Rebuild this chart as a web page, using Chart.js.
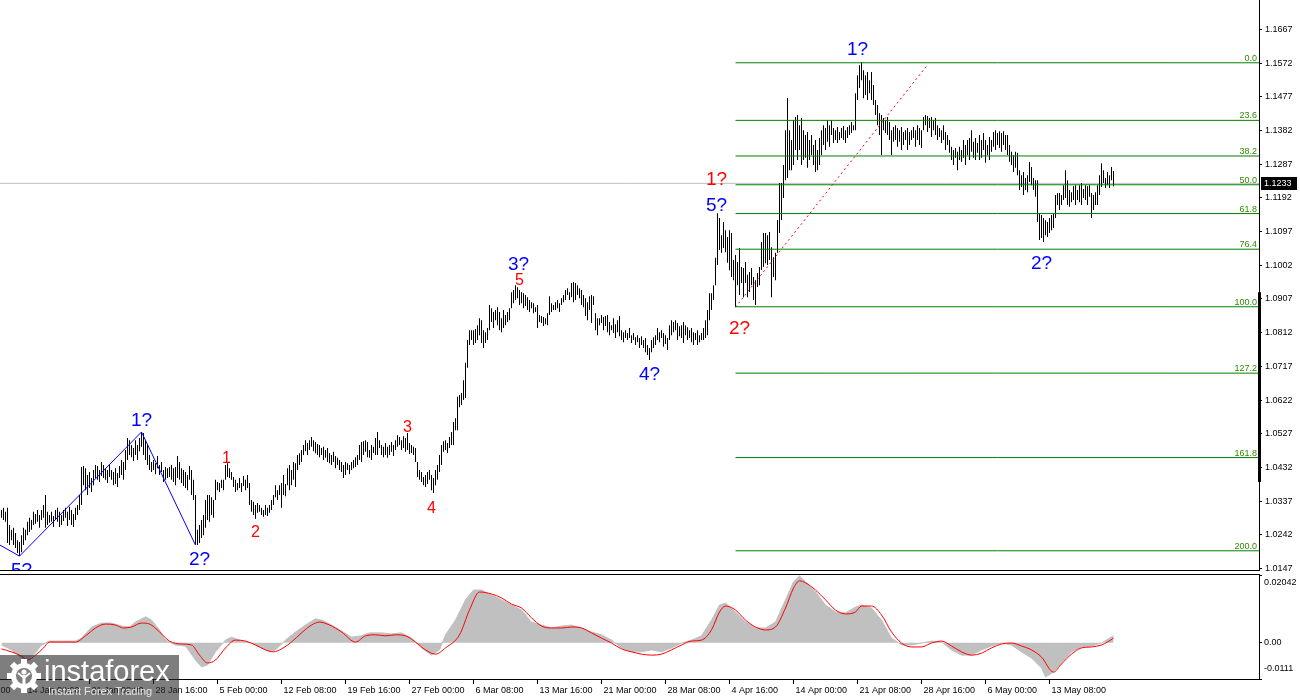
<!DOCTYPE html>
<html><head><meta charset="utf-8">
<script src="https://cdn.jsdelivr.net/npm/chart.js@4.4.1/dist/chart.umd.min.js"></script>
<style>
html,body{margin:0;padding:0;background:#fff;overflow:hidden;}
#wrap{position:relative;width:1300px;height:700px;background:#fff;}
#c1{position:absolute;left:0;top:0;}
#c2{position:absolute;left:0;top:571px;}
</style></head><body>
<div id="wrap">
<canvas id="c1" width="1300" height="571" style="width:1300px;height:571px"></canvas>
<canvas id="c2" width="1300" height="129" style="width:1300px;height:129px"></canvas>
</div>
<script>
// ---------------- DATA ----------------
const barHigh = [
1.0312,1.0318,1.0307,1.0318,1.0270,1.0256,1.0262,1.0247,1.0227,1.0222,1.0241,
1.0262,1.0256,1.0279,1.0290,1.0284,1.0307,1.0301,1.0312,1.0298,1.0312,1.0326,1.0354,
1.0307,1.0298,1.0307,1.0295,1.0312,1.0318,1.0307,1.0298,1.0312,1.0318,1.0307,1.0321,1.0312,1.0301,1.0318,1.0326,1.0354,1.0433,
1.0436,1.0430,1.0411,1.0419,1.0402,1.0425,1.0439,1.0436,1.0425,1.0447,1.0439,1.0430,1.0425,1.0439,
1.0425,1.0419,1.0430,1.0416,1.0436,1.0453,1.0447,1.0481,1.0515,1.0509,1.0495,1.0487,1.0509,1.0495,1.0515,1.0532,1.0529,
1.0509,1.0495,1.0467,1.0447,1.0453,1.0444,1.0464,1.0439,1.0447,1.0425,1.0433,1.0430,1.0433,1.0439,1.0430,1.0433,1.0464,1.0447,1.0430,1.0425,1.0419,1.0411,1.0436,1.0425,1.0397,1.0354,
1.0256,1.0270,1.0284,1.0298,1.0340,1.0354,1.0354,1.0348,1.0340,1.0397,1.0391,1.0388,1.0397,1.0397,1.0439,1.0444,
1.0430,1.0419,1.0405,1.0397,1.0388,1.0402,1.0388,1.0408,1.0397,1.0411,1.0388,1.0340,1.0335,1.0326,1.0332,
1.0326,1.0318,1.0312,1.0326,1.0318,1.0326,1.0340,1.0354,1.0382,1.0368,1.0382,1.0388,1.0411,1.0385,1.0430,1.0439,1.0425,1.0447,1.0444,1.0467,1.0472,
1.0481,1.0495,1.0509,1.0501,1.0509,1.0518,1.0509,1.0504,1.0498,1.0495,1.0487,1.0490,1.0481,1.0487,1.0472,1.0467,1.0476,1.0464,1.0459,1.0453,1.0447,1.0439,1.0447,
1.0444,1.0439,1.0447,1.0453,1.0461,1.0467,1.0495,1.0504,1.0506,1.0509,1.0504,1.0481,1.0495,1.0490,1.0515,1.0532,1.0509,1.0495,1.0490,1.0501,1.0490,1.0495,1.0504,1.0495,
1.0509,1.0523,1.0518,1.0509,1.0520,1.0515,1.0529,1.0501,1.0495,1.0490,1.0487,1.0447,1.0425,1.0419,1.0405,1.0411,1.0419,1.0425,1.0411,1.0402,
1.0425,1.0439,1.0467,1.0495,1.0506,1.0509,1.0501,1.0518,1.0532,1.0560,1.0571,1.0631,1.0636,1.0642,1.0678,1.0727,1.0791,
1.0819,1.0819,1.0819,1.0822,1.0833,1.0853,1.0847,1.0819,1.0813,1.0825,1.0890,1.0881,1.0870,1.0876,1.0884,1.0870,1.0853,1.0876,1.0862,1.0870,1.0881,1.0926,1.0932,
1.0946,1.0940,1.0932,1.0926,1.0923,1.0918,1.0912,1.0904,1.0898,1.0895,1.0884,1.0890,1.0862,1.0859,1.0856,1.0853,1.0867,1.0915,1.0895,1.0890,1.0898,1.0904,1.0895,1.0909,
1.0918,1.0932,1.0937,1.0926,1.0952,1.0955,1.0952,1.0946,1.0937,1.0932,1.0918,1.0909,1.0898,1.0915,1.0918,1.0915,
1.0867,1.0853,1.0853,1.0862,1.0856,1.0859,1.0862,1.0842,1.0833,1.0853,1.0836,1.0847,1.0859,1.0819,1.0813,1.0819,1.0811,1.0825,1.0805,1.0811,1.0799,1.0805,1.0797,1.0802,1.0791,1.0797,1.0777,1.0769,1.0791,
1.0799,1.0805,1.0825,1.0813,1.0819,1.0811,1.0805,1.0797,1.0833,1.0847,1.0842,1.0847,1.0839,1.0830,1.0833,1.0842,1.0833,1.0827,1.0819,1.0825,1.0813,1.0811,1.0819,1.0805,1.0811,1.0825,1.0847,1.0876,1.0923,1.0923,
1.0946,1.1023,1.1149,1.1135,1.1087,1.1124,1.1101,1.1082,1.1101,1.1093,1.1017,
1.1031,1.1011,1.1051,1.0997,1.0994,1.1011,1.0975,1.0983,1.0994,1.0969,1.0960,1.0980,1.0997,1.1068,1.1093,1.1093,1.1087,1.1096,1.1053,1.1025,1.1037,1.1130,1.1234,1.1234,1.1285,1.1383,1.1474,
1.1383,1.1355,1.1411,1.1420,1.1426,1.1397,1.1417,1.1383,1.1369,1.1378,1.1355,1.1369,1.1341,1.1355,1.1327,1.1361,1.1383,1.1397,1.1389,1.1411,1.1397,1.1411,1.1389,1.1383,1.1392,1.1378,1.1389,1.1395,1.1383,1.1392,1.1397,1.1406,1.1397,
1.1487,1.1538,1.1566,1.1575,1.1552,1.1538,1.1547,1.1524,1.1547,1.1510,1.1468,1.1454,1.1431,1.1426,1.1417,1.1411,1.1420,1.1406,1.1383,1.1392,1.1397,1.1389,1.1383,1.1392,1.1378,1.1383,1.1389,1.1378,1.1383,1.1392,1.1383,1.1397,1.1389,1.1383,
1.1420,1.1426,1.1423,1.1417,1.1420,1.1411,1.1417,1.1397,1.1389,1.1383,1.1397,1.1378,1.1369,1.1355,1.1336,1.1327,1.1333,1.1322,1.1336,1.1327,1.1355,1.1341,1.1355,1.1361,1.1383,1.1350,1.1361,1.1347,1.1369,1.1355,1.1375,1.1355,1.1341,1.1364,1.1355,1.1378,1.1383,1.1375,1.1380,1.1375,1.1380,1.1369,1.1369,
1.1341,1.1322,1.1313,1.1322,1.1319,1.1270,1.1256,1.1265,1.1248,1.1256,1.1293,1.1279,1.1248,1.1242,1.1242,1.1149,1.1144,1.1135,1.1129,1.1124,1.1135,1.1144,1.1149,1.1200,1.1206,1.1206,1.1200,1.1228,1.1270,1.1242,1.1214,1.1208,1.1225,1.1228,1.1214,1.1228,1.1234,1.1217,1.1228,1.1225,1.1228,1.1206,1.1200,1.1208,1.1228,1.1256,1.1290,1.1270,1.1248,1.1265,1.1256,1.1279,1.1268
];
const barLow = [
1.0290,1.0284,1.0279,1.0219,1.0213,1.0227,1.0213,1.0205,1.0191,1.0182,1.0193,
1.0213,1.0227,1.0241,1.0250,1.0256,1.0270,1.0273,1.0279,1.0262,1.0284,1.0290,1.0262,
1.0270,1.0276,1.0279,1.0264,1.0284,1.0279,1.0264,1.0270,1.0281,1.0290,1.0267,1.0284,1.0270,1.0264,1.0284,1.0298,1.0312,1.0326,
1.0382,1.0368,1.0354,1.0374,1.0363,1.0382,1.0402,1.0397,1.0391,1.0408,1.0402,1.0397,1.0388,1.0405,
1.0397,1.0382,1.0385,1.0377,1.0402,1.0411,1.0397,1.0425,1.0453,1.0467,1.0461,1.0450,1.0467,1.0453,1.0478,1.0490,1.0467,
1.0453,1.0439,1.0425,1.0419,1.0425,1.0413,1.0430,1.0411,1.0419,1.0391,1.0397,1.0402,1.0405,1.0397,1.0391,1.0382,1.0402,1.0397,1.0388,1.0380,1.0374,1.0368,1.0397,1.0354,1.0340,1.0213,
1.0213,1.0219,1.0233,1.0241,1.0262,1.0284,1.0279,1.0298,1.0290,1.0340,1.0368,1.0363,1.0374,1.0368,1.0397,1.0405,
1.0402,1.0397,1.0377,1.0363,1.0368,1.0374,1.0363,1.0380,1.0368,1.0374,1.0326,1.0307,1.0298,1.0287,1.0304,
1.0307,1.0298,1.0293,1.0298,1.0295,1.0304,1.0312,1.0326,1.0348,1.0340,1.0354,1.0318,1.0354,1.0351,1.0382,1.0368,1.0382,1.0397,1.0377,1.0425,1.0439,
1.0447,1.0467,1.0478,1.0467,1.0481,1.0490,1.0478,1.0472,1.0467,1.0461,1.0467,1.0453,1.0459,1.0447,1.0444,1.0439,1.0447,1.0430,1.0439,1.0425,1.0419,1.0402,1.0411,
1.0425,1.0413,1.0425,1.0430,1.0433,1.0439,1.0453,1.0447,1.0467,1.0476,1.0461,1.0459,1.0453,1.0473,1.0467,1.0467,1.0487,1.0467,1.0461,1.0467,1.0459,1.0467,1.0476,1.0464,
1.0481,1.0490,1.0495,1.0481,1.0487,1.0476,1.0481,1.0470,1.0473,1.0467,1.0447,1.0405,1.0397,1.0391,1.0382,1.0377,1.0385,1.0397,1.0368,1.0360,
1.0382,1.0397,1.0419,1.0439,1.0476,1.0481,1.0473,1.0487,1.0495,1.0495,1.0537,1.0537,1.0602,1.0608,1.0622,1.0628,1.0713,
1.0777,1.0791,1.0777,1.0783,1.0791,1.0805,1.0783,1.0769,1.0783,1.0791,1.0819,1.0842,1.0825,1.0847,1.0833,1.0819,1.0813,1.0825,1.0833,1.0842,1.0847,1.0881,1.0895,
1.0904,1.0909,1.0890,1.0895,1.0881,1.0887,1.0876,1.0870,1.0881,1.0867,1.0870,1.0825,1.0842,1.0839,1.0831,1.0836,1.0833,1.0862,1.0870,1.0876,1.0876,1.0881,1.0870,1.0890,
1.0898,1.0904,1.0918,1.0904,1.0912,1.0898,1.0904,1.0918,1.0909,1.0890,1.0884,1.0859,1.0847,1.0876,1.0839,1.0890,
1.0819,1.0805,1.0833,1.0839,1.0819,1.0831,1.0813,1.0805,1.0819,1.0811,1.0797,1.0813,1.0802,1.0791,1.0785,1.0797,1.0791,1.0797,1.0783,1.0791,1.0777,1.0785,1.0769,1.0777,1.0769,1.0757,1.0749,1.0735,1.0757,
1.0769,1.0777,1.0791,1.0785,1.0797,1.0772,1.0780,1.0763,1.0791,1.0805,1.0813,1.0819,1.0791,1.0802,1.0797,1.0783,1.0805,1.0791,1.0797,1.0785,1.0777,1.0791,1.0777,1.0785,1.0791,1.0791,1.0797,1.0805,1.0847,1.0876,
1.0904,1.0946,1.1003,1.1045,1.1037,1.1051,1.1039,1.1009,1.0988,1.0969,1.0960,
1.0884,1.0946,1.0918,1.0952,1.0912,1.0952,1.0912,1.0927,1.0946,1.0904,1.0890,1.0941,1.0946,1.0989,1.0997,1.1008,1.1003,1.1017,1.0912,1.0969,1.0960,1.1037,1.1093,1.1130,1.1192,1.1242,1.1248,
1.1270,1.1270,1.1285,1.1327,1.1299,1.1327,1.1285,1.1299,1.1305,1.1277,1.1299,1.1313,1.1285,1.1265,1.1270,1.1285,1.1313,1.1341,1.1327,1.1350,1.1336,1.1369,1.1347,1.1355,1.1347,1.1355,1.1361,1.1355,1.1347,1.1361,1.1369,1.1375,1.1383,
1.1383,1.1468,1.1502,1.1524,1.1473,1.1482,1.1468,1.1487,1.1468,1.1454,1.1426,1.1397,1.1369,1.1313,1.1383,1.1375,1.1369,1.1355,1.1313,1.1350,1.1355,1.1336,1.1350,1.1327,1.1341,1.1355,1.1327,1.1341,1.1355,1.1361,1.1336,1.1355,1.1341,1.1333,
1.1383,1.1397,1.1378,1.1389,1.1364,1.1383,1.1369,1.1355,1.1364,1.1347,1.1355,1.1327,1.1341,1.1319,1.1299,1.1285,1.1305,1.1270,1.1299,1.1294,1.1305,1.1285,1.1313,1.1299,1.1322,1.1305,1.1299,1.1319,1.1299,1.1305,1.1327,1.1291,1.1313,1.1299,1.1322,1.1336,1.1327,1.1341,1.1333,1.1322,1.1341,1.1327,1.1313,
1.1294,1.1285,1.1265,1.1277,1.1256,1.1214,1.1223,1.1200,1.1214,1.1208,1.1237,1.1228,1.1214,1.1195,1.1124,1.1073,1.1079,1.1068,1.1087,1.1082,1.1093,1.1101,1.1107,1.1135,1.1172,1.1158,1.1172,1.1186,1.1192,1.1172,1.1167,1.1180,1.1186,1.1172,1.1186,1.1180,1.1172,1.1192,1.1186,1.1172,1.1195,1.1135,1.1158,1.1172,1.1172,1.1200,1.1223,1.1234,1.1220,1.1228,1.1220,1.1242,1.1225
];
const currentPrice = 1.1233;
const currentPriceLabel = '1.1233';

const yTickVals = [1.0147,1.0242,1.0337,1.0432,1.0527,1.0622,1.0717,1.0812,1.0907,1.1002,1.1097,1.1192,1.1287,1.1382,1.1477,1.1572,1.1667];
const yTickLabels = ['1.0147','1.0242','1.0337','1.0432','1.0527','1.0622','1.0717','1.0812','1.0907','1.1002','1.1097','1.1192','1.1287','1.1382','1.1477','1.1572','1.1667'];

const xTickBars = [-20,12,44,76,108,140,172,204,236,268,300,332,364,396,428,460,492,524];
const xTickLabels = ['6 Jan 16:00','14 Jan 00:00','21 Jan 08:00','28 Jan 16:00','5 Feb 00:00','12 Feb 08:00','19 Feb 16:00','27 Feb 00:00','6 Mar 08:00','13 Mar 16:00','21 Mar 00:00','28 Mar 08:00','4 Apr 16:00','14 Apr 00:00','21 Apr 08:00','28 Apr 16:00','6 May 00:00','13 May 08:00'];

const fibHigh = 1.1573, fibLow = 1.0885, fibStartBar = 367;
const fibLevels = [0, 23.6, 38.2, 50, 61.8, 76.4, 100, 127.2, 161.8, 200];
const fibLabels = ['0.0','23.6','38.2','50.0','61.8','76.4','100.0','127.2','161.8','200.0'];

const trendBars = [367, 463];
const trendPrices = [1.0884, 1.1567];

const zigzagBars = [-0.75, 9, 70, 97];
const zigzagPrices = [1.0213, 1.0182, 1.0532, 1.0213];

const waveText  = ['5?','1?','2?','1','2','3','4','3?','5','4?','5?','1?','2?','1?','2?'];
const waveKind  = ['blue','blue','blue','redSmall','redSmall','redSmall','redSmall','blue','redSmall','blue','blue','red','red','blue','blue'];
const waveBar   = [10, 70, 99, 112.5, 127, 203, 215, 258.5, 259, 324, 357.5, 357.5, 369, 428, 520];
const wavePrice = [1.0140, 1.0563, 1.0171, 1.0456, 1.0247, 1.0543, 1.0315, 1.1003, 1.0960, 1.0692, 1.1169, 1.1242, 1.0822, 1.1609, 1.1006];

const histBars = [0,5,10,12,16,20,24,30,37,40,45,50,55,60,64,67,72,75,79,82,87,92,97,100,103,107,112,115,120,125,130,134,137,142,147,152,157,160,165,170,175,180,184,190,195,200,205,210,215,219,222,227,232,236,240,245,250,255,260,265,270,275,280,285,290,295,300,305,310,315,320,325,330,335,340,345,350,355,359,362,367,372,377,382,387,392,396,399,402,407,412,417,422,427,430,435,440,445,450,455,460,465,470,475,480,485,490,495,500,505,510,515,520,522,526,530,535,540,545,550,554,556];
const histVals = [-0.0007,-0.0022,-0.0047,-0.0059,-0.0038,-0.0007,0.0005,0.0005,0.0005,0.0014,0.0048,0.0060,0.0060,0.0051,0.0048,0.0063,0.0079,0.0069,0.0039,0.0008,-0.0007,-0.0010,-0.0053,-0.0074,-0.0068,-0.0028,0.0008,0.0017,0.0005,-0.0001,-0.0016,-0.0028,-0.0022,0.0008,0.0033,0.0054,0.0073,0.0069,0.0054,0.0036,0.0017,0.0021,0.0030,0.0030,0.0027,0.0030,0.0014,-0.0016,-0.0038,-0.0022,0.0024,0.0069,0.0131,0.0161,0.0161,0.0146,0.0131,0.0115,0.0100,0.0063,0.0054,0.0045,0.0051,0.0054,0.0045,0.0033,0.0024,0.0008,-0.0016,-0.0028,-0.0028,-0.0022,-0.0028,-0.0016,-0.0001,0.0008,0.0021,0.0069,0.0115,0.0121,0.0094,0.0063,0.0045,0.0045,0.0063,0.0131,0.0186,0.0204,0.0186,0.0155,0.0115,0.0094,0.0091,0.0109,0.0115,0.0106,0.0069,0.0014,-0.0007,-0.0007,-0.0001,0.0005,0.0002,-0.0022,-0.0038,-0.0038,-0.0022,-0.0010,-0.0001,-0.0007,-0.0028,-0.0047,-0.0077,-0.0105,-0.0090,-0.0062,-0.0028,-0.0013,-0.0010,-0.0001,0.0014,0.0021];

const sigBars = [0,5,10,13,17,21,24,30,37,42,47,52,57,61,65,70,74,79,84,90,95,99,103,107,112,117,122,127,132,136,140,145,150,155,159,164,170,177,182,187,192,197,202,207,212,217,222,229,234,239,245,250,255,260,265,270,275,280,285,290,295,300,305,310,315,320,325,330,335,340,345,350,355,359,362,367,372,377,382,387,392,396,399,402,407,412,417,422,427,430,435,440,445,450,455,460,465,470,475,480,485,490,495,500,505,510,515,520,526,530,535,540,545,550,553,556];
const sigVals = [-0.0019,-0.0028,-0.0041,-0.0053,-0.0038,-0.0016,0.0002,0.0002,0.0002,0.0021,0.0045,0.0057,0.0054,0.0045,0.0048,0.0060,0.0057,0.0033,0.0005,-0.0004,-0.0007,-0.0038,-0.0062,-0.0053,-0.0016,0.0008,0.0005,-0.0007,-0.0022,-0.0028,-0.0019,0.0002,0.0030,0.0054,0.0063,0.0054,0.0033,0.0002,0.0021,0.0024,0.0021,0.0024,0.0021,0.0002,-0.0022,-0.0035,-0.0016,0.0024,0.0100,0.0155,0.0149,0.0137,0.0118,0.0106,0.0076,0.0051,0.0045,0.0045,0.0048,0.0045,0.0030,0.0014,-0.0001,-0.0019,-0.0028,-0.0035,-0.0038,-0.0035,-0.0022,-0.0007,0.0005,0.0008,0.0039,0.0094,0.0112,0.0100,0.0069,0.0048,0.0039,0.0048,0.0106,0.0167,0.0189,0.0183,0.0161,0.0131,0.0100,0.0088,0.0094,0.0112,0.0112,0.0085,0.0033,-0.0001,-0.0013,-0.0013,-0.0001,0.0005,-0.0010,-0.0028,-0.0038,-0.0032,-0.0016,-0.0004,-0.0001,-0.0010,-0.0022,-0.0044,-0.0090,-0.0065,-0.0035,-0.0016,-0.0013,-0.0007,0.0002,0.0014];

const macdTickVals = [0.02042, 0, -0.0111];
const macdTickLabels = ['0.02042', '0.00', '-0.0111'];

const logoTitle = 'instaforex';
const logoTagline = 'Instant Forex Trading';

// ---------------- STYLE / LAYOUT ----------------
const FONT = '"Liberation Sans", Arial, sans-serif';
const X_MIN = -0.75, X_MAX = 628.75;
const waveStyle = {
  blue: {color:'#0000ff', font:'19px ' + FONT},
  red: {color:'#ff0000', font:'19px ' + FONT},
  redSmall: {color:'#ff0000', font:'16px ' + FONT}
};
const macdLabelShift = [7, 0, -10];
const fibPrice = lv => fibHigh - lv / 100 * (fibHigh - fibLow);

const mainOverlay = {
  id: 'mainOverlay',
  afterDatasetsDraw(chart) {
    const {ctx, chartArea: a, scales: {x, y}} = chart;
    ctx.save();
    ctx.beginPath(); ctx.rect(a.left, a.top, a.right - a.left, a.bottom - a.top); ctx.clip();
    ctx.font = '9px ' + FONT; ctx.fillStyle = '#2f8a00';
    ctx.textAlign = 'right'; ctx.textBaseline = 'alphabetic';
    fibLevels.forEach((lv, k) => {
      ctx.fillText(fibLabels[k], a.right - 2, y.getPixelForValue(fibPrice(lv)) - 2);
    });
    ctx.textAlign = 'center'; ctx.textBaseline = 'middle';
    waveText.forEach((t, k) => {
      const st = waveStyle[waveKind[k]];
      ctx.font = st.font; ctx.fillStyle = st.color;
      ctx.fillText(t, x.getPixelForValue(waveBar[k]), y.getPixelForValue(wavePrice[k]));
    });
    ctx.restore();
  },
  afterDraw(chart) {
    const {ctx, chartArea: a, scales: {y}} = chart;
    ctx.save();
    ctx.strokeStyle = '#000'; ctx.lineWidth = 1;
    ctx.beginPath(); ctx.moveTo(0, a.bottom - 0.5); ctx.lineTo(a.right + 1, a.bottom - 0.5); ctx.stroke();
    ctx.lineWidth = 3;
    ctx.beginPath(); ctx.moveTo(a.right + 0.5, y.getPixelForValue(1.0926)); ctx.lineTo(a.right + 0.5, y.getPixelForValue(1.0391)); ctx.stroke();
    const py = Math.round(y.getPixelForValue(currentPrice));
    ctx.fillStyle = '#000'; ctx.fillRect(a.right + 2, py - 6, 36, 13);
    ctx.fillStyle = '#fff'; ctx.font = '9px ' + FONT; ctx.textAlign = 'left'; ctx.textBaseline = 'middle';
    ctx.fillText(currentPriceLabel, a.right + 5, py + 0.5);
    ctx.restore();
  }
};

const subOverlay = {
  id: 'subOverlay',
  afterDraw(chart) {
    const {ctx, chartArea: a, scales: {y}} = chart;
    ctx.save();
    ctx.strokeStyle = '#000'; ctx.lineWidth = 1;
    ctx.beginPath(); ctx.moveTo(0, a.top + 0.5); ctx.lineTo(a.right + 1, a.top + 0.5); ctx.stroke();
    ctx.font = '9px ' + FONT; ctx.fillStyle = '#000'; ctx.textAlign = 'left'; ctx.textBaseline = 'middle';
    macdTickVals.forEach((v, k) => {
      ctx.fillText(macdTickLabels[k], a.right + 5, y.getPixelForValue(v) + macdLabelShift[k]);
    });
    const top = 84;
    ctx.fillStyle = 'rgba(40,40,40,0.6)';
    ctx.fillRect(0, top, 179, 45);
    const cx = 24, cy = top + 21;
    ctx.fillStyle = '#fff';
    for (let k = 0; k < 8; k++) {
      ctx.save(); ctx.translate(cx, cy); ctx.rotate(k * Math.PI / 4);
      ctx.fillRect(-3, -17, 6, 6); ctx.restore();
    }
    ctx.beginPath(); ctx.arc(cx, cy, 13, 0, Math.PI * 2); ctx.fill();
    ctx.fillStyle = '#7d7d7d';
    ctx.beginPath(); ctx.arc(cx, cy, 8, 0, Math.PI * 2); ctx.fill();
    ctx.fillStyle = '#fff';
    ctx.beginPath(); ctx.arc(cx, cy - 4, 2.6, 0, Math.PI * 2); ctx.fill();
    ctx.fillRect(cx - 1.5, cy - 1, 3, 9);
    ctx.strokeStyle = '#fff'; ctx.lineWidth = 2;
    ctx.beginPath(); ctx.moveTo(cx - 6, cy - 3); ctx.lineTo(cx, cy + 2); ctx.lineTo(cx + 6, cy - 3); ctx.stroke();
    ctx.fillStyle = '#fff'; ctx.textAlign = 'left'; ctx.textBaseline = 'alphabetic';
    ctx.font = '29px ' + FONT;
    ctx.fillText(logoTitle, 44, top + 26);
    ctx.fillStyle = '#e6e6e6'; ctx.font = '11px ' + FONT;
    ctx.fillText(logoTagline, 48, top + 40);
    ctx.restore();
  }
};

// ---------------- MAIN CHART ----------------
const lineDefaults = {type: 'line', pointRadius: 0, borderWidth: 1, tension: 0, fill: false};
const fibDatasets = fibLevels.map(lv => Object.assign({}, lineDefaults, {
  data: [{x: fibStartBar, y: fibPrice(lv)}, {x: X_MAX, y: fibPrice(lv)}],
  borderColor: '#008000', order: 1
}));
new Chart(document.getElementById('c1'), {
  type: 'line',
  data: {
    datasets: [
      ...fibDatasets,
      Object.assign({}, lineDefaults, {
        data: trendBars.map((b, i) => ({x: b, y: trendPrices[i]})),
        borderColor: '#ff0000', borderDash: [2, 3], order: 1
      }),
      Object.assign({}, lineDefaults, {
        data: zigzagBars.map((b, i) => ({x: b, y: zigzagPrices[i]})),
        borderColor: '#0000ff', order: 1
      }),
      Object.assign({}, lineDefaults, {
        data: [{x: X_MIN, y: currentPrice}, {x: X_MAX, y: currentPrice}],
        borderColor: '#c0c0c0', order: 30
      }),
      {
        type: 'bar',
        data: barHigh.map((h, i) => ({x: i, y: [barLow[i], h]})),
        backgroundColor: '#000', borderWidth: 0, barThickness: 1, inflateAmount: 0, order: 20
      }
    ]
  },
  options: {
    responsive: false, animation: false, devicePixelRatio: 1, events: [],
    layout: {padding: 0},
    plugins: {legend: {display: false}, tooltip: {enabled: false}},
    scales: {
      x: {type: 'linear', min: X_MIN, max: X_MAX, display: false, offset: false, grid: {offset: false}},
      y: {
        type: 'linear', position: 'right', min: 1.0140, max: 1.1750,
        afterBuildTicks: s => { s.ticks = yTickVals.map(v => ({value: v})); },
        afterFit: s => { s.width = 41; s.paddingTop = 0; s.paddingBottom = 0; },
        ticks: {autoSkip: false, callback: (v, i) => yTickLabels[i], font: {family: FONT, size: 9}, color: '#000', padding: 3},
        grid: {drawOnChartArea: false, drawTicks: true, tickLength: 3, color: '#000'},
        border: {display: true, color: '#000', width: 1}
      }
    }
  },
  plugins: [mainOverlay]
});

// ---------------- MACD SUB-WINDOW ----------------
new Chart(document.getElementById('c2'), {
  type: 'line',
  data: {
    datasets: [
      {
        data: sigBars.map((b, i) => ({x: b, y: sigVals[i]})),
        borderColor: '#ff0000', borderWidth: 1, pointRadius: 0, cubicInterpolationMode: 'monotone', fill: false, order: 1
      },
      {
        data: histBars.map((b, i) => ({x: b, y: histVals[i]})),
        borderColor: '#c0c0c0', borderWidth: 1, backgroundColor: '#c0c0c0', pointRadius: 0, tension: 0, fill: 'origin', order: 2
      }
    ]
  },
  options: {
    responsive: false, animation: false, devicePixelRatio: 1, events: [],
    layout: {padding: {top: 3, left: 0, right: 0, bottom: 0}},
    plugins: {legend: {display: false}, tooltip: {enabled: false}},
    scales: {
      x: {
        type: 'linear', min: X_MIN, max: X_MAX, position: 'bottom', offset: false,
        afterBuildTicks: s => { s.ticks = xTickBars.map(v => ({value: v})); },
        afterFit: s => { s.height = 21; s.paddingLeft = 0; s.paddingRight = 0; },
        ticks: {autoSkip: false, maxRotation: 0, minRotation: 0, align: 'start', labelOffset: 2, padding: 1,
                font: {family: FONT, size: 9}, color: '#000', callback: (v, i) => xTickLabels[i]},
        grid: {drawOnChartArea: false, drawTicks: true, tickLength: 5, color: '#000', offset: false},
        border: {display: true, color: '#000'}
      },
      y: {
        type: 'linear', position: 'right', min: -0.0111, max: 0.0210,
        afterBuildTicks: s => { s.ticks = macdTickVals.map(v => ({value: v})); },
        afterFit: s => { s.width = 41; s.paddingTop = 0; s.paddingBottom = 0; },
        ticks: {display: false},
        grid: {drawOnChartArea: false, drawTicks: true, tickLength: 3, color: '#000'},
        border: {display: true, color: '#000'}
      }
    }
  },
  plugins: [subOverlay]
});
</script>
</body></html>
